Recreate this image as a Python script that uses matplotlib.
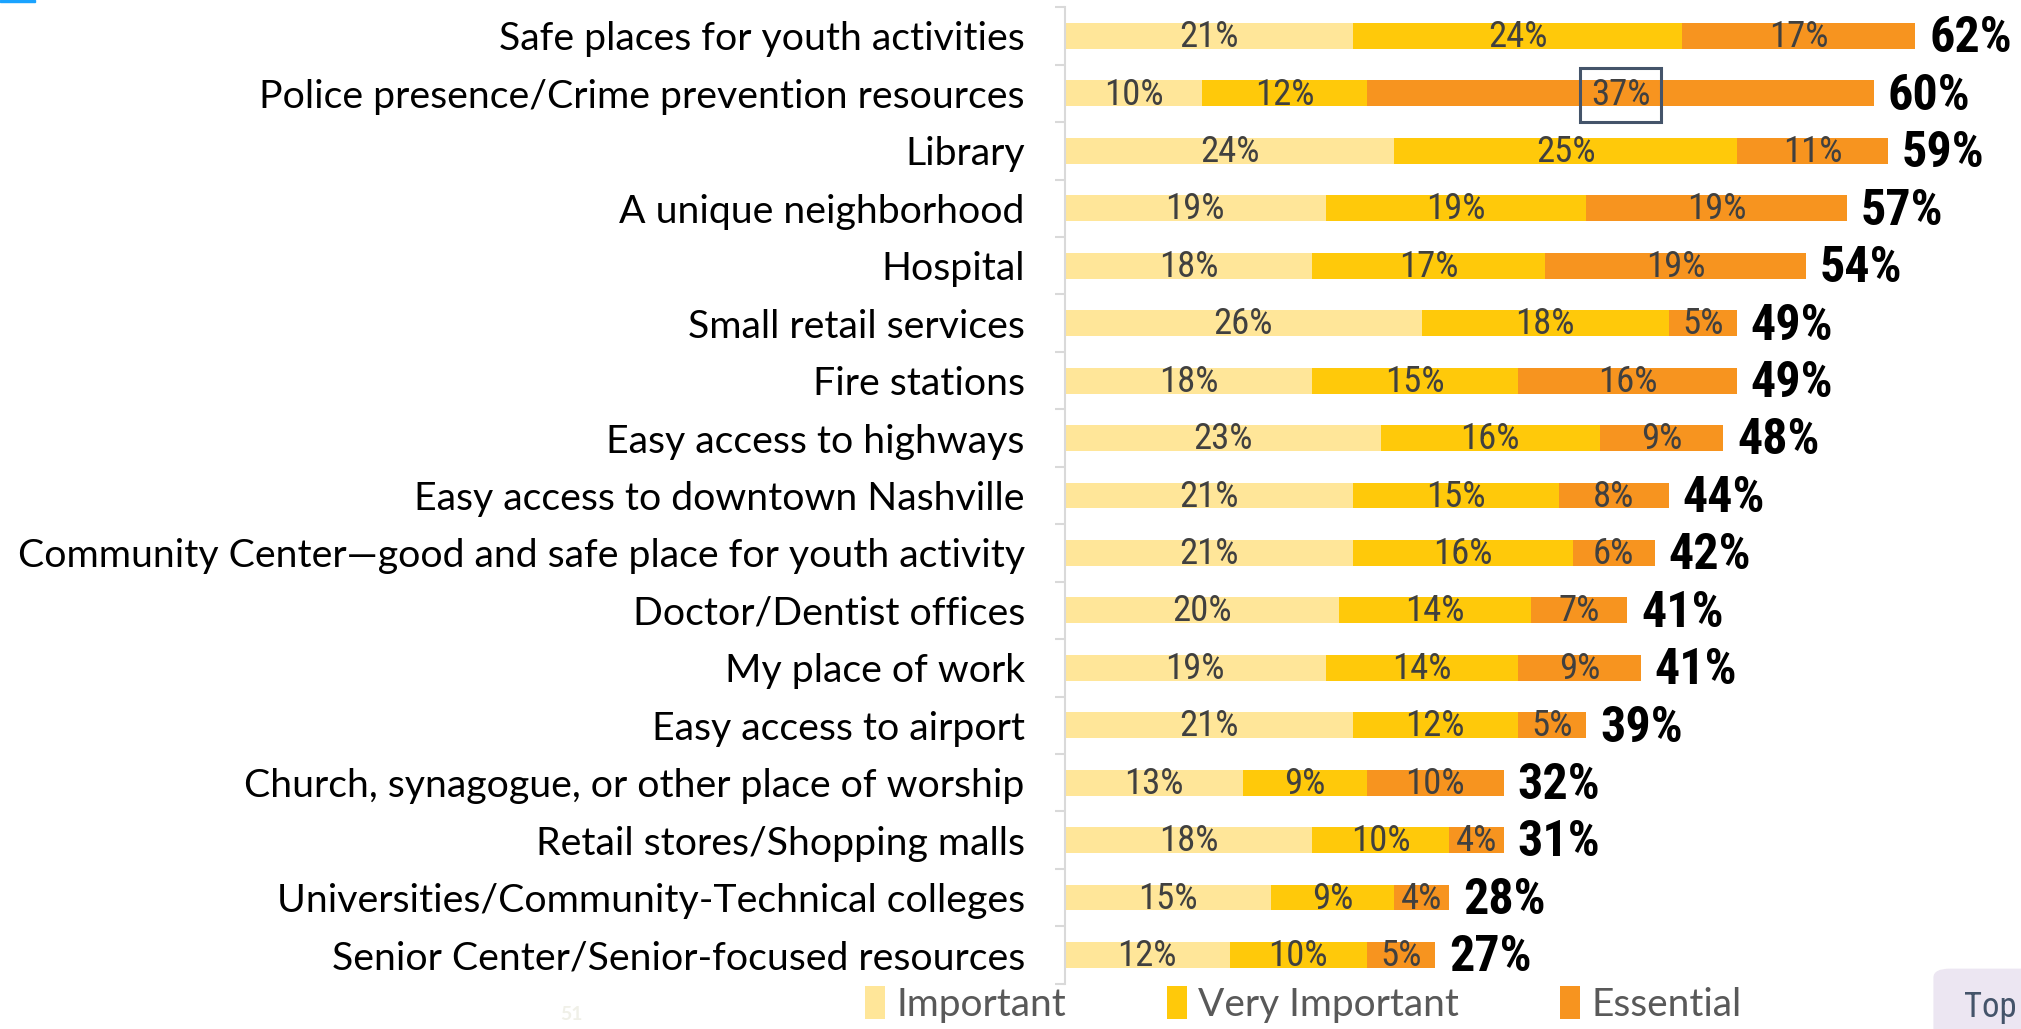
import matplotlib
matplotlib.use('Agg')
import matplotlib.pyplot as plt
from matplotlib.patches import Rectangle, FancyBboxPatch

# survey items, top to bottom
categories = [
    'Safe places for youth activities',
    'Police presence/Crime prevention resources',
    'Library',
    'A unique neighborhood',
    'Hospital',
    'Small retail services',
    'Fire stations',
    'Easy access to highways',
    'Easy access to downtown Nashville',
    'Community Center\u2014good and safe place for youth activity',
    'Doctor/Dentist offices',
    'My place of work',
    'Easy access to airport',
    'Church, synagogue, or other place of worship',
    'Retail stores/Shopping malls',
    'Universities/Community-Technical colleges',
    'Senior Center/Senior-focused resources',
]
important = [21, 10, 24, 19, 18, 26, 18, 23, 21, 21, 20, 19, 21, 13, 18, 15, 12]
very_important = [24, 12, 25, 19, 17, 18, 15, 16, 15, 16, 14, 14, 12, 9, 10, 9, 10]
essential = [17, 37, 11, 19, 19, 5, 16, 9, 8, 6, 7, 9, 5, 10, 4, 4, 5]
totals = [62, 60, 59, 57, 54, 49, 49, 48, 44, 42, 41, 41, 39, 32, 31, 28, 27]

series = ['Important', 'Very Important', 'Essential']
colors = ['#FFE699', '#FFC90A', '#F7941F']

plt.rcParams['font.family'] = 'Lato'
narrow = 'Roboto Condensed'

fig = plt.figure(figsize=(20.21, 10.29), dpi=100)
ax = fig.add_axes([0.527, 0.044, 0.473, 0.949])

y = list(range(len(categories)))
left = [0] * len(categories)
for vals, name, col in zip([important, very_important, essential], series, colors):
    ax.barh(y, vals, left=left, height=0.45, color=col, label=name)
    for yi, l, v in zip(y, left, vals):
        ax.text(l + v / 2, yi + 0.02, f'{v}%', ha='center', va='center',
                fontsize=26.5, color='#404040', family=narrow)
    left = [a + b for a, b in zip(left, vals)]

for yi, end, t in zip(y, left, totals):
    ax.text(end + 1.0, yi + 0.05, f'{t}%', ha='left', va='center',
            fontsize=36, fontweight='bold', color='black', family=narrow)

# outline around the largest segment
i = categories.index('Police presence/Crime prevention resources')
cx = important[i] + very_important[i] + essential[i] / 2
ax.add_patch(Rectangle((cx - 2.95, i - 0.45), 5.9, 0.94, fill=False,
                       edgecolor='#44546A', linewidth=2.2, zorder=5))

ax.set_xlim(0, 69.7)
ax.set_ylim(len(categories) - 0.5, -0.5)
ax.set_yticks(y)
ax.set_yticklabels(categories, fontsize=28.3)
ax.set_yticks([k - 0.5 for k in range(len(categories) + 1)], minor=True)
ax.tick_params(axis='y', which='major', length=0, pad=29)
ax.tick_params(axis='y', which='minor', length=7, color='#D9D9D9', width=1.5)
ax.set_xticks([])
for s in ['top', 'right', 'bottom']:
    ax.spines[s].set_visible(False)
ax.spines['left'].set_color('#D9D9D9')
ax.spines['left'].set_linewidth(1.5)

fig.legend(loc='lower center', bbox_to_anchor=(0.645, -0.028), ncol=3,
           frameon=False, fontsize=28, handlelength=0.5, handleheight=0.9,
           handletextpad=0.3, columnspacing=2.6, labelcolor='#595959')

# page furniture
fig.patches.append(Rectangle((0, 0.998), 0.0173, 0.002, transform=fig.transFigure,
                             color='#1AA3FF', figure=fig))
fig.patches.append(FancyBboxPatch((0.957, -0.02), 0.06, 0.078,
                                  boxstyle='round,pad=0,rounding_size=0.008',
                                  transform=fig.transFigure, color='#ECE6F2', figure=fig))
fig.text(0.985, 0.021, 'Top', fontsize=25, color='#44546A', ha='center', va='center',
         family=narrow)
fig.text(0.283, 0.014, '51', fontsize=14, color='#F0F0E8', ha='center', va='center',
         fontweight='bold')

fig.savefig('out.png', dpi=100)
